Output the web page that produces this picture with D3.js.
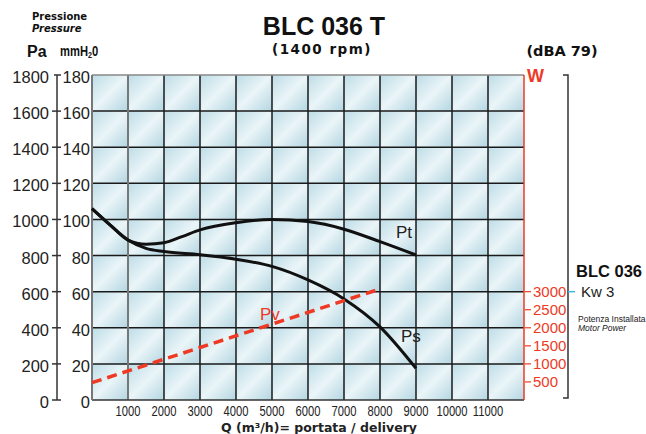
<!DOCTYPE html>
<html><head><meta charset="utf-8">
<script src="https://cdn.jsdelivr.net/npm/d3@7"></script>
<style>body{margin:0;background:#fff}svg{display:block}</style>
</head><body>
<script>
// ---- data ----
const flowTicks = [1000,2000,3000,4000,5000,6000,7000,8000,9000,10000,11000];
const paTicks = [0,200,400,600,800,1000,1200,1400,1600,1800];
const mmTicks = [0,20,40,60,80,100,120,140,160,180];
const wTicks = [500,1000,1500,2000,2500,3000];
const ptFlow   = [0,500,1000,1500,2000,2500,3000,4000,5000,6000,7000,8000,9000];
const ptValues = [106,97,88.6,86.3,87.1,90.5,94.2,98.2,100,98.8,94.6,87.7,80.3];
const psFlow   = [0,500,1000,1500,2000,3000,4000,5000,6000,7000,8000,9000];
const psValues = [106,97,88.6,84,82.2,80.5,78,74,66.5,56,40.5,17.5];
const pvFlow   = [0,8000];
const pvValues = [9.6,61.5];

const W = 646, H = 434;
const svg = d3.select("body").append("svg").attr("width", W).attr("height", H);
const red = "#ee3a24";
const x = d3.scaleLinear([0, 12000], [92, 524]);
const y = d3.scaleLinear([0, 180], [400, 75]);
const yPa = d3.scaleLinear([0, 1800], [400, 75]);
const yW = d3.scaleLinear([0, 9000], [400, 75]);

const defs = svg.append("defs");
const g = defs.append("linearGradient").attr("id","cell")
  .attr("x1","0").attr("y1","0").attr("x2","1").attr("y2","1");
g.append("stop").attr("offset","0").attr("stop-color","#bddce7");
g.append("stop").attr("offset","0.5").attr("stop-color","#eaf5f8");
g.append("stop").attr("offset","1").attr("stop-color","#b3d5e1");

// cells
const xb = [0, ...flowTicks, 12000];
const cells = [];
for (let i = 0; i < xb.length - 1; i++)
  for (let j = 0; j < mmTicks.length - 1; j++)
    cells.push({x0: xb[i], x1: xb[i+1], y0: mmTicks[j], y1: mmTicks[j+1]});
svg.append("g").selectAll("rect").data(cells).join("rect")
  .attr("x", d => x(d.x0)).attr("y", d => y(d.y1))
  .attr("width", d => x(d.x1) - x(d.x0)).attr("height", d => y(d.y0) - y(d.y1))
  .attr("fill", "url(#cell)");

// grid lines
const grid = svg.append("g");
grid.selectAll(".h").data(mmTicks.slice(1, -1)).join("line")
  .attr("x1", x(0)).attr("x2", x(12000)).attr("y1", d => y(d)).attr("y2", d => y(d))
  .attr("stroke", "#1a1a1a").attr("stroke-width", 1.5);
grid.selectAll(".v").data(flowTicks).join("line")
  .attr("x1", d => x(d)).attr("x2", d => x(d)).attr("y1", y(180)).attr("y2", y(0))
  .attr("stroke", (d, i) => i === 0 ? "#777" : "#1a1a1a").attr("stroke-width", (d, i) => i === 0 ? 2 : 1.5);
grid.append("line").attr("x1", x(0)).attr("x2", x(12000)).attr("y1", y(180)).attr("y2", y(180))
  .attr("stroke", "#888").attr("stroke-width", 1.5);
grid.append("line").attr("x1", x(0)).attr("x2", x(12000)).attr("y1", y(0)).attr("y2", y(0))
  .attr("stroke", "#333").attr("stroke-width", 1.5);
grid.append("line").attr("x1", x(0)).attr("x2", x(0)).attr("y1", y(180)).attr("y2", y(0))
  .attr("stroke", "#777").attr("stroke-width", 2);
// red W axis
grid.append("line").attr("x1", x(12000)).attr("x2", x(12000)).attr("y1", y(180)).attr("y2", y(0))
  .attr("stroke", red).attr("stroke-width", 1.5);

// curves
const line = d3.line().curve(d3.curveMonotoneX);
svg.append("path").attr("d", line(psFlow.map((f, i) => [x(f), y(psValues[i])])))
  .attr("fill", "none").attr("stroke", "#111").attr("stroke-width", 3);
svg.append("path").attr("d", line(ptFlow.map((f, i) => [x(f), y(ptValues[i])])))
  .attr("fill", "none").attr("stroke", "#111").attr("stroke-width", 3);
svg.append("path").attr("d", d3.line()(pvFlow.map((f, i) => [x(f), y(pvValues[i])])))
  .attr("fill", "none").attr("stroke", red).attr("stroke-width", 3.5).attr("stroke-dasharray", "10,6");

const txt = (t, px, py, opts = {}) => svg.append("text").text(t).attr("x", px).attr("y", py)
  .attr("font-family", opts.ff || "'Liberation Sans', Arial, sans-serif")
  .attr("font-size", opts.fs || 14).attr("font-weight", opts.fw || "normal")
  .attr("font-style", opts.fst || "normal").attr("fill", opts.fill || "#222")
  .attr("text-anchor", opts.anchor || "start");

txt("Pt", 396, 238, {fs: 17});
txt("Ps", 401, 342, {fs: 17});
txt("Pv", 260, 320, {fs: 17, fill: red});

// left Pa axis
const la = svg.append("g");
la.append("line").attr("x1", 57).attr("x2", 57).attr("y1", yPa(1800)).attr("y2", yPa(0))
  .attr("stroke", "#333").attr("stroke-width", 1.5);
la.selectAll(".t").data(paTicks).join("line")
  .attr("x1", d => d === 1800 ? 54 : 52).attr("x2", 61).attr("y1", d => yPa(d)).attr("y2", d => yPa(d))
  .attr("stroke", "#333").attr("stroke-width", 1.5);
la.selectAll(".l").data(paTicks).join("text").text(d => d)
  .attr("x", 49).attr("y", d => yPa(d) + 8).attr("text-anchor", "end")
  .attr("font-family", "'Liberation Sans', Arial, sans-serif").attr("font-size", 16.5).attr("fill", "#222");
la.selectAll(".m").data(mmTicks).join("text").text(d => d)
  .attr("x", 90).attr("y", d => y(d) + 8).attr("text-anchor", "end")
  .attr("font-family", "'Liberation Sans', Arial, sans-serif").attr("font-size", 16.5).attr("fill", "#222");

// x tick labels (condensed)
svg.append("g").selectAll("text").data(flowTicks).join("text").text(d => d)
  .attr("transform", d => `translate(${x(d)},416) scale(0.8,1)`)
  .attr("text-anchor", "middle")
  .attr("font-family", "'Liberation Sans', Arial, sans-serif")
  .attr("font-size", 14).attr("fill", "#222");
txt("Q (m³/h)= portata / delivery", 319, 432, {ff: "'DejaVu Sans', Verdana, sans-serif", fs: 12.5, fw: "bold", anchor: "middle"});

// W axis
const wa = svg.append("g");
wa.selectAll("line").data(wTicks).join("line")
  .attr("x1", 525).attr("x2", 531).attr("y1", d => yW(d)).attr("y2", d => yW(d))
  .attr("stroke", red).attr("stroke-width", 1.2);
wa.selectAll("text").data(wTicks).join("text").text(d => d)
  .attr("x", 533).attr("y", d => yW(d) + 5.5)
  .attr("font-family", "'Liberation Sans', Arial, sans-serif").attr("font-size", 15).attr("fill", red);
txt("W", 527, 82, {fs: 18, fw: "bold", fill: red});

// bracket
svg.append("path").attr("d", "M563,75 H568 V398 H563").attr("fill", "none")
  .attr("stroke", "#333").attr("stroke-width", 1.5);
svg.append("line").attr("x1", 568).attr("x2", 575).attr("y1", yW(3000)).attr("y2", yW(3000))
  .attr("stroke", "#3fb6e0").attr("stroke-width", 1.5);
txt("Kw 3", 581, 297, {fs: 15});
txt("BLC 036", 576, 277, {fs: 16.5, fw: "bold", fill: "#111"});
txt("Potenza Installata", 578, 322, {fs: 8.5});
txt("Motor Power", 578, 331, {fs: 8.5, fst: "italic"});

// titles
txt("BLC 036 T", 324, 35, {fs: 25, fw: "bold", fill: "#111", anchor: "middle"});
txt("(1400 rpm)", 322, 54, {ff: "'DejaVu Sans', Verdana, sans-serif", fs: 13.5, fw: "bold", fill: "#111", anchor: "middle"})
  .attr("letter-spacing", 1.5);
txt("(dBA 79)", 562, 56, {ff: "'DejaVu Sans', Verdana, sans-serif", fs: 14.5, fw: "bold", fill: "#111", anchor: "middle"});
txt("Pressione", 32, 20, {ff: "'DejaVu Sans', Verdana, sans-serif", fs: 10, fw: "bold", fill: "#111"});
txt("Pressure", 32, 32, {ff: "'DejaVu Sans', Verdana, sans-serif", fs: 10, fw: "bold", fst: "italic", fill: "#111"});
txt("Pa", 27, 57, {fs: 16, fw: "bold", fill: "#111"});
const mm = svg.append("text").attr("transform", "translate(60,56) scale(0.8,1)")
  .attr("font-family", "'Liberation Sans', Arial, sans-serif").attr("font-size", 14)
  .attr("font-weight", "bold").attr("fill", "#111").text("mmH");
mm.append("tspan").text("2").attr("font-size", 9).attr("dy", 2);
mm.append("tspan").text("0").attr("dy", -2);
</script>
</body></html>
